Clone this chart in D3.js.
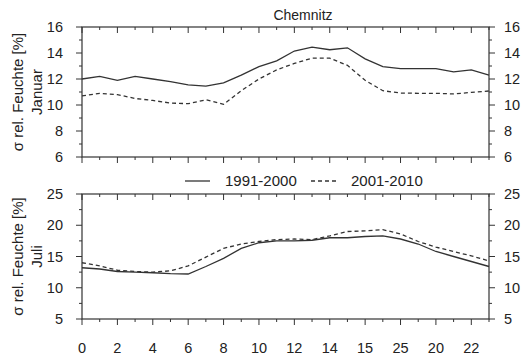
<!DOCTYPE html>
<html><head><meta charset="utf-8">
<script src="https://cdn.jsdelivr.net/npm/d3@7/dist/d3.min.js"></script>
<style>body{margin:0;background:#fff}svg{display:block}text{font-family:"Liberation Sans",Arial,sans-serif;fill:#222}</style>
</head><body>
<script>
const hours = d3.range(0, 24);
const xTickValues = [0, 2, 4, 6, 8, 10, 12, 14, 16, 18, 20, 22];
const xTickLabels = ["0", "2", "4", "6", "8", "10", "12", "14", "15", "25", "20", "22"];
const seriesNames = ["1991-2000", "2001-2010"];
const januar1991 = [12.0, 12.2, 11.9, 12.2, 12.0, 11.8, 11.55, 11.45, 11.7, 12.3, 12.95, 13.4, 14.15, 14.45, 14.25, 14.4, 13.55, 12.95, 12.8, 12.8, 12.8, 12.55, 12.7, 12.3];
const januar2001 = [10.7, 10.9, 10.8, 10.5, 10.35, 10.15, 10.1, 10.4, 10.05, 11.1, 12.0, 12.7, 13.2, 13.6, 13.6, 13.05, 11.9, 11.1, 10.92, 10.9, 10.9, 10.85, 10.97, 11.08];
const juli1991 = [13.2, 13.0, 12.6, 12.5, 12.4, 12.25, 12.2, 13.4, 14.7, 16.3, 17.2, 17.5, 17.5, 17.6, 18.0, 18.0, 18.2, 18.3, 17.8, 17.0, 15.8, 15.0, 14.2, 13.4];
const juli2001 = [14.0, 13.5, 12.8, 12.6, 12.5, 12.7, 13.5, 14.9, 16.3, 17.0, 17.4, 17.7, 17.8, 17.7, 18.3, 19.0, 19.1, 19.3, 18.6, 17.4, 16.5, 15.8, 15.1, 14.3];
const januarTicks = [6, 8, 10, 12, 14, 16];
const juliTicks = [5, 10, 15, 20, 25];

const W = 528, H = 356;
const svg = d3.select("body").append("svg").attr("width", W).attr("height", H);
const x = d3.scaleLinear().domain([0, 23]).range([82, 489]);
const ink = "#333";

svg.append("text").attr("x", 303).attr("y", 20).attr("text-anchor", "middle")
  .style("font-size", "14px").text("Chemnitz");

function panel(top, bottom, domain, ticks, minor, s1, s2, month) {
  const y = d3.scaleLinear().domain(domain).range([bottom, top]);
  const g = svg.append("g");
  // frame
  g.append("rect").attr("x", x(0)).attr("y", top).attr("width", x(23) - x(0)).attr("height", bottom - top)
    .attr("fill", "none").attr("stroke", ink).attr("stroke-width", 1.2);
  // x ticks (pointing down) on top and bottom edges
  hours.forEach(h => {
    const len = h % 2 === 0 ? 6 : 3;
    [top, bottom].forEach(yy => {
      g.append("line").attr("x1", x(h)).attr("x2", x(h)).attr("y1", yy).attr("y2", yy + len)
        .attr("stroke", ink).attr("stroke-width", 1);
    });
  });
  // y ticks left and right
  const allY = d3.range(domain[0], domain[1] + 0.001, minor);
  allY.forEach(v => {
    const major = ticks.includes(v);
    const len = major ? 6 : 3;
    g.append("line").attr("x1", x(0) - len).attr("x2", x(0)).attr("y1", y(v)).attr("y2", y(v)).attr("stroke", ink);
    g.append("line").attr("x1", x(23)).attr("x2", x(23) + len).attr("y1", y(v)).attr("y2", y(v)).attr("stroke", ink);
  });
  ticks.forEach(v => {
    g.append("text").attr("x", 63).attr("y", y(v)).attr("dy", "0.36em").attr("text-anchor", "end")
      .style("font-size", "14.5px").text(v);
    g.append("text").attr("x", 504).attr("y", y(v)).attr("dy", "0.36em").attr("text-anchor", "start")
      .style("font-size", "14.5px").text(v);
  });
  const line = d3.line().x((d, i) => x(hours[i])).y(d => y(d)).curve(d3.curveLinear);
  g.append("path").datum(s1).attr("d", line).attr("fill", "none").attr("stroke", ink).attr("stroke-width", 1.3);
  g.append("path").datum(s2).attr("d", line).attr("fill", "none").attr("stroke", ink).attr("stroke-width", 1.3)
    .attr("stroke-dasharray", "4,3");
  const cy = (top + bottom) / 2;
  g.append("text").attr("transform", `translate(23,${cy}) rotate(-90)`).attr("text-anchor", "middle")
    .style("font-size", "15px").text("σ rel. Feuchte [%]");
  g.append("text").attr("transform", `translate(42,${cy}) rotate(-90)`).attr("text-anchor", "middle")
    .style("font-size", "15px").text(month);
  return y;
}

panel(27, 157, [6, 16], januarTicks, 1, januar1991, januar2001, "Januar");
panel(194, 319, [5, 25], juliTicks, 2.5, juli1991, juli2001, "Juli");

// x labels
xTickValues.forEach((v, i) => {
  svg.append("text").attr("x", x(v)).attr("y", 353).attr("text-anchor", "middle")
    .style("font-size", "14.5px").text(xTickLabels[i]);
});

// legend
const leg = svg.append("g");
leg.append("line").attr("x1", 185).attr("x2", 210).attr("y1", 181).attr("y2", 181).attr("stroke", ink).attr("stroke-width", 1.3);
leg.append("text").attr("x", 225).attr("y", 186).style("font-size", "15px").text(seriesNames[0]);
leg.append("line").attr("x1", 311).attr("x2", 336).attr("y1", 181).attr("y2", 181).attr("stroke", ink).attr("stroke-width", 1.3).attr("stroke-dasharray", "4,3");
leg.append("text").attr("x", 351).attr("y", 186).style("font-size", "15px").text(seriesNames[1]);
</script>
</body></html>
